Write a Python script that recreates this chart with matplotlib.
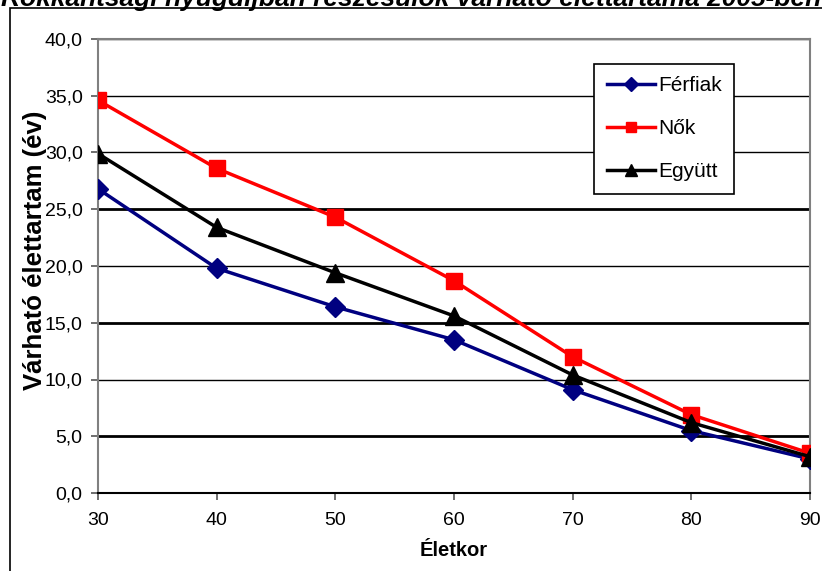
import matplotlib.pyplot as plt
from matplotlib.patches import Rectangle

# adatok
eletkor = [30, 40, 50, 60, 70, 80, 90]
ferfiak = [26.8, 19.8, 16.4, 13.5, 9.1, 5.5, 3.0]
nok = [34.6, 28.6, 24.3, 18.7, 12.0, 6.9, 3.5]
egyutt = [29.9, 23.4, 19.4, 15.6, 10.4, 6.2, 3.2]

y_ticks = [0, 5, 10, 15, 20, 25, 30, 35, 40]
x_ticks = [30, 40, 50, 60, 70, 80, 90]

plt.rcParams['font.family'] = ['Liberation Sans', 'DejaVu Sans']

fig = plt.figure(figsize=(8.22, 5.71), dpi=100)
fig.patch.set_facecolor('white')

# külső keret (csak bal és felső széle látszik)
fig.patches.append(Rectangle((10 / 822, -0.1), 1.2, 1 - 8 / 571 + 0.1,
                             transform=fig.transFigure, fill=False,
                             edgecolor='black', linewidth=1.2))

# a cím az eredeti képen is le van vágva felül
fig.text(0.5, 1 - 6 / 571, "Rokkantsági nyugdíjban részesülők várható élettartama 2005-ben",
         ha='center', va='baseline', fontsize=19, fontweight='bold', style='italic')

ax = fig.add_axes([98 / 822, 78 / 571, 712 / 822, 454 / 571])

ax.plot(eletkor, ferfiak, color='#000080', linewidth=2.5, marker='D', markersize=10.5,
        label='Férfiak', zorder=3)
ax.plot(eletkor, nok, color='#ff0000', linewidth=2.5, marker='s', markersize=12,
        label='Nők', zorder=3)
ax.plot(eletkor, egyutt, color='black', linewidth=2.5, marker='^', markersize=12.5,
        label='Együtt', zorder=4)

ax.set_xlim(30, 90)
ax.set_ylim(0, 40)
ax.set_xticks(x_ticks)
ax.set_yticks(y_ticks)
ax.set_yticklabels([f"{v:.1f}".replace('.', ',') for v in y_ticks])
ax.tick_params(labelsize=14, length=5, width=1.2, color='#555555')
ax.tick_params(axis='x', pad=9)
ax.tick_params(axis='y', pad=6)

ax.yaxis.grid(True, color='black', linewidth=1.0)
for i, gl in enumerate(ax.get_ygridlines()):
    if y_ticks[i] in (5, 15, 25):
        gl.set_linewidth(2.0)
ax.set_axisbelow(True)

for s in ['top', 'right', 'left']:
    ax.spines[s].set_color('#808080')
    ax.spines[s].set_linewidth(1.5)
ax.spines['bottom'].set_color('black')
ax.spines['bottom'].set_linewidth(1.5)

ax.set_xlabel("Életkor", fontsize=14.5, fontweight='bold', labelpad=8)
ax.set_ylabel("Várható élettartam (év)", fontsize=18.5, fontweight='bold')
ax.yaxis.set_label_coords(-0.072, 0.535)

leg = ax.legend(loc='upper left', bbox_to_anchor=(0.697, 0.945), borderaxespad=0,
                fontsize=15, fancybox=False, edgecolor='black', framealpha=1,
                labelspacing=1.15, handlelength=2.3, handletextpad=0.15,
                markerscale=0.65, borderpad=0.6)
leg.get_frame().set_linewidth(1.2)

fig.savefig('out.png', dpi=100)
